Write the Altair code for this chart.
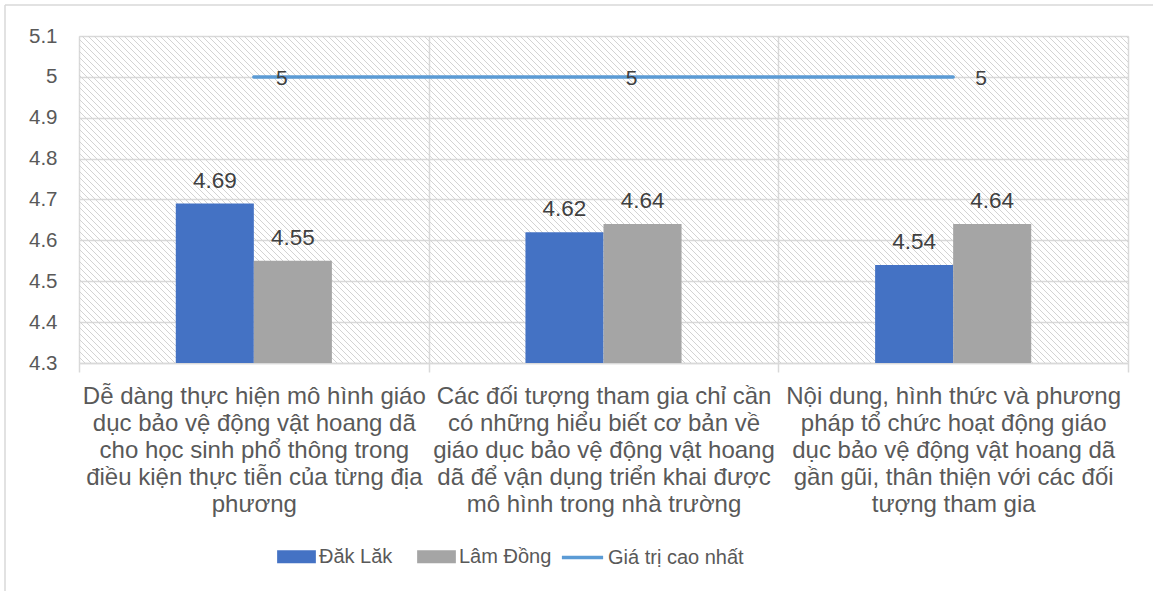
import altair as alt
import pandas as pd

# ---- data ----
categories = [
    "Dễ dàng thực hiện mô hình giáo\ndục bảo vệ động vật hoang dã\ncho học sinh phổ thông trong\nđiều kiện thực tiễn của từng địa\nphương",
    "Các đối tượng tham gia chỉ cần\ncó những hiểu biết cơ bản về\ngiáo dục bảo vệ động vật hoang\ndã để vận dụng triển khai được\nmô hình trong nhà trường",
    "Nội dung, hình thức và phương\npháp tổ chức hoạt động giáo\ndục bảo vệ động vật hoang dã\ngần gũi, thân thiện với các đối\ntượng tham gia",
]
dak_lak = [4.69, 4.62, 4.54]
lam_dong = [4.55, 4.64, 4.64]
max_value = [5, 5, 5]
bar_series = ["Đăk Lăk", "Lâm Đồng"]
bar_colors = ["#4472C4", "#A5A5A5"]
line_series = ["Giá trị cao nhất"]
line_colors = ["#5B9BD5"]
y_ticks = [4.3, 4.4, 4.5, 4.6, 4.7, 4.8, 4.9, 5.0, 5.1]

W, H = 1049, 327
PAD_L, PAD_T, PAD_R, PAD_B = 79, 36, 25, 228
FONT = "Liberation Sans"
GRID = "#d9d9d9"
HATCH_STEP = 6

bars_df = pd.DataFrame(
    {"cat": categories * 2,
     "series": [bar_series[0]] * 3 + [bar_series[1]] * 3,
     "value": dak_lak + lam_dong}
)
line_df = pd.DataFrame(
    {"cat": categories, "series": line_series * 3, "value": max_value}
)

rect_path = "M-1,-0.34H1V0.34H-1Z"
bar_legend = alt.Legend(
    title=None, orient="none", legendX=198, legendY=501, direction="horizontal",
    symbolType=rect_path, symbolSize=1500, labelFontSize=20, labelColor="#595959",
    labelFont=FONT, labelOffset=3, columnPadding=24, symbolStrokeWidth=0,
)
line_legend = alt.Legend(
    title=None, orient="none", legendX=481, legendY=499, direction="horizontal",
    symbolType="stroke", symbolSize=1700, symbolStrokeWidth=3.5,
    labelFontSize=20, labelColor="#595959", labelFont=FONT, labelOffset=3,
)

x_enc = alt.X(
    "cat:N", sort=categories, title=None,
    scale=alt.Scale(paddingInner=0, paddingOuter=0),
    axis=alt.Axis(
        labelExpr="split(datum.label, '\\n')", labelAngle=0, labelFont=FONT,
        labelFontSize=24, labelLineHeight=27, labelColor="#595959", labelLimit=400,
        tickBand="extent", tickSize=9, tickColor=GRID, tickWidth=1.5,
        domainColor=GRID, domainWidth=1.5, grid=True, gridColor=GRID, gridWidth=1.5,
        labelPadding=12,
    ),
)
y_enc = alt.Y(
    "value:Q", title=None,
    scale=alt.Scale(domain=[4.3, 5.1], nice=False, zero=False),
    axis=alt.Axis(
        values=y_ticks, labelExpr="format(datum.value, '~g')", labelFont=FONT,
        labelFontSize=20.5, labelColor="#595959", labelPadding=22, ticks=False,
        domain=False, grid=True, gridColor=GRID, gridWidth=1.5,
    ),
)

offset_domain = ["_pad_left"] + bar_series + ["_pad_right"]

bars = alt.Chart(bars_df).mark_bar(clip=True).encode(
    x=x_enc,
    xOffset=alt.XOffset("series:N", sort=bar_series,
                        scale=alt.Scale(domain=offset_domain, paddingOuter=0.24, paddingInner=0)),
    y=y_enc,
    y2=alt.datum(4.3),
    color=alt.Color("series:N", scale=alt.Scale(domain=bar_series, range=bar_colors),
                    legend=bar_legend),
)
bar_text = alt.Chart(bars_df).mark_text(
    font=FONT, fontSize=22.5, color="#404040", baseline="middle", dy=-23
).encode(
    x=alt.X("cat:N", sort=categories),
    xOffset=alt.XOffset("series:N"),
    y="value:Q",
    text=alt.Text("value:Q", format=".2f"),
)
line = alt.Chart(line_df).mark_line(strokeWidth=3.5, strokeCap="round").encode(
    x=alt.X("cat:N", sort=categories),
    y="value:Q",
    stroke=alt.Stroke("series:N", scale=alt.Scale(domain=line_series, range=line_colors),
                      legend=line_legend),
)
line_text = alt.Chart(line_df).mark_text(
    font=FONT, fontSize=21, color="#404040", baseline="middle", dx=28, dy=2
).encode(
    x=alt.X("cat:N", sort=categories),
    y="value:Q",
    text=alt.Text("value:Q", format="~g"),
)

main = alt.layer(bars, bar_text, line, line_text)

# decorative diagonal hatch of the plot background (pre-clipped segments)
hx, hy, hx2, hy2 = [], [], [], []
x0 = -H
while x0 < W:
    sx = max(x0, 0)
    ex = min(x0 + H, W)
    if ex > sx:
        hx.append(float(sx)); hy.append(float(sx - x0))
        hx2.append(float(ex)); hy2.append(float(ex - x0))
    x0 += HATCH_STEP
hatch_df = pd.DataFrame({"hx": hx, "hy": hy, "hx2": hx2, "hy2": hy2})
hatch = alt.Chart(hatch_df).mark_rule(color="#d3d3d3", strokeWidth=1).encode(
    x=alt.X("hx:Q", scale=None, axis=None), x2="hx2:Q",
    y=alt.Y("hy:Q", scale=None, axis=None), y2="hy2:Q",
)

# decorative chart-area border (top and left edges visible)
border_df = pd.DataFrame({
    "bx": [-PAD_L + 5, -PAD_L + 5], "bx2": [W + PAD_R, -PAD_L + 5],
    "by": [-PAD_T + 5, -PAD_T + 5], "by2": [-PAD_T + 5, H + PAD_B],
})
border = alt.Chart(border_df).mark_rule(color=GRID, strokeWidth=1.5).encode(
    x=alt.X("bx:Q", scale=None, axis=None), x2="bx2:Q",
    y=alt.Y("by:Q", scale=None, axis=None), y2="by2:Q",
)

chart = alt.layer(hatch, border, main).resolve_scale(
    x="independent", y="independent"
).properties(
    width=W, height=H,
    autosize=alt.AutoSizeParams(type="none"),
    padding={"left": PAD_L, "top": PAD_T, "right": PAD_R, "bottom": PAD_B},
).configure_view(stroke=None).configure(background="white")

chart.save("out.html", embed_options={"renderer": "svg", "actions": False})
